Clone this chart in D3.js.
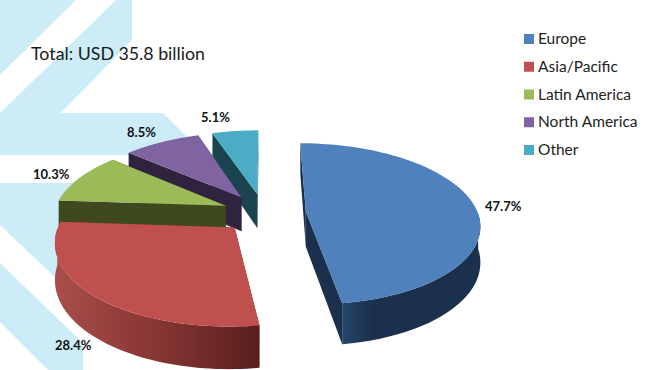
<!DOCTYPE html>
<html>
<head>
<meta charset="utf-8">
<script src="https://d3js.org/d3.v7.min.js"></script>
<style>
    html, body { margin: 0; padding: 0; background: #fff; }
    svg { display: block; }
    text { font-family: Lato, "Open Sans", sans-serif; }
</style>
</head>
<body>
<div id="vis"></div>
<script>
    const regions = ['Europe', 'Asia/Pacific', 'Latin America', 'North America', 'Other'];
    const shares = [47.7, 28.4, 10.3, 8.5, 5.1];
    const topColors = ['#4f81bd', '#c0504d', '#9bbb59', '#8064a2', '#4bacc6'];
    const wallColors = ['#1a304d', '#7a2f2c', '#3f491f', '#2f2340', '#1a444f'];
    const title = 'Total: USD 35.8 billion';

    const width = 653, height = 370;
    const svg = d3.select('#vis').append('svg').attr('width', width).attr('height', height);

    // background chevrons
    const bgShapes = [
        [[0, 0], [76, 0], [0, 75]],
        [[116, 0], [132, 0], [132, 40], [61, 113], [163, 113], [205, 155], [0, 155], [0, 113]],
        [[0, 183], [165, 183], [200, 230], [60, 282], [0, 225]],
        [[0, 263], [83, 343], [83, 370], [48, 370], [0, 322]]
    ];
    const line = d3.line();
    svg.selectAll('.bg').data(bgShapes).enter().append('path')
        .attr('class', 'bg')
        .attr('fill', '#ccedf8')
        .attr('d', d => line(d) + 'Z');

    // pie geometry: R and explode in plane units, persp shrinks the far side
    const cx = 264, cy = 213, R = 172, explode = 42, tilt = 0.46, persp = 0.00088, depth = 35;
    const project = (X, Y, drop = 0) => {
        const s = 1 / (1 - Y * persp);
        return [cx + X * s, cy + Y * tilt * s + drop * s];
    };

    const color = d3.scaleOrdinal(regions, topColors);
    const wall = d3.scaleOrdinal(regions, wallColors);
    const pie = d3.pie().sort(null).value(d => d.share);
    const slices = pie(regions.map((name, i) => ({name, share: shares[i]})));

    const defs = svg.append('defs');
    const gradients = {
        'Europe': [[0, '#25466b'], [0.22, '#1a304d'], [1, '#1a304d']],
        'Asia/Pacific': [[0, '#a94e4a'], [0.45, '#8a3835'], [1, '#5a1e1e']]
    };
    Object.keys(gradients).forEach((name, i) => {
        const g = defs.append('linearGradient').attr('id', 'rim' + i);
        gradients[name].forEach(st => g.append('stop').attr('offset', st[0]).attr('stop-color', st[1]));
    });
    const rimFill = name => {
        const i = Object.keys(gradients).indexOf(name);
        return i < 0 ? wall(name) : `url(#rim${i})`;
    };

    // back slices first so the front ones cover them
    slices.slice().reverse().forEach(d => {
        const name = d.data.name;
        const mid = (d.startAngle + d.endAngle) / 2;
        const ox = Math.sin(mid) * explode, oy = -Math.cos(mid) * explode;
        const rim = (a, drop) => project(ox + Math.sin(a) * R, oy - Math.cos(a) * R, drop);
        const apex = drop => project(ox, oy, drop);
        const angles = d3.range(0, 61).map(k => d.startAngle + (d.endAngle - d.startAngle) * k / 60);
        const g = svg.append('g').attr('class', 'slice');

        // straight side walls
        [d.startAngle, d.endAngle].forEach(a => {
            g.append('path')
                .attr('fill', wall(name))
                .attr('d', line([apex(0), rim(a, 0), rim(a, depth), apex(depth)]) + 'Z');
        });

        // outer wall, only the part turned to the viewer
        const front = angles.filter(a => Math.cos(a) < 0);
        if (front.length) {
            g.append('path')
                .attr('fill', rimFill(name))
                .attr('d', line(front.map(a => rim(a, 0)).concat(front.slice().reverse().map(a => rim(a, depth)))) + 'Z');
        }

        g.append('path')
            .attr('fill', color(name))
            .attr('d', line([apex(0)].concat(angles.map(a => rim(a, 0)))) + 'Z');
    });

    svg.append('text')
        .attr('x', 31).attr('y', 60)
        .attr('font-size', 17.8).attr('fill', '#1a1a1a')
        .text(title);

    // percent labels
    const labelSpots = {
        'Europe': [485, 211], 'Asia/Pacific': [55, 350], 'Latin America': [33, 179],
        'North America': [127, 137], 'Other': [201, 122]
    };
    svg.selectAll('.pct').data(slices).enter().append('text')
        .attr('class', 'pct')
        .attr('x', d => labelSpots[d.data.name][0])
        .attr('y', d => labelSpots[d.data.name][1])
        .attr('font-size', 13).attr('font-weight', 700).attr('fill', '#111')
        .text(d => d3.format('.1f')(d.data.share) + '%');

    // legend
    const legendY = d3.scalePoint().domain(regions).range([39, 150]);
    const legend = svg.selectAll('.legend').data(regions).enter().append('g')
        .attr('class', 'legend')
        .attr('transform', d => `translate(524,${legendY(d)})`);
    legend.append('rect')
        .attr('x', 0).attr('y', -5).attr('width', 10).attr('height', 10)
        .attr('fill', d => color(d));
    legend.append('text')
        .attr('x', 14).attr('y', 5)
        .attr('font-size', 15.5).attr('fill', '#222')
        .text(d => d);
</script>
</body>
</html>
